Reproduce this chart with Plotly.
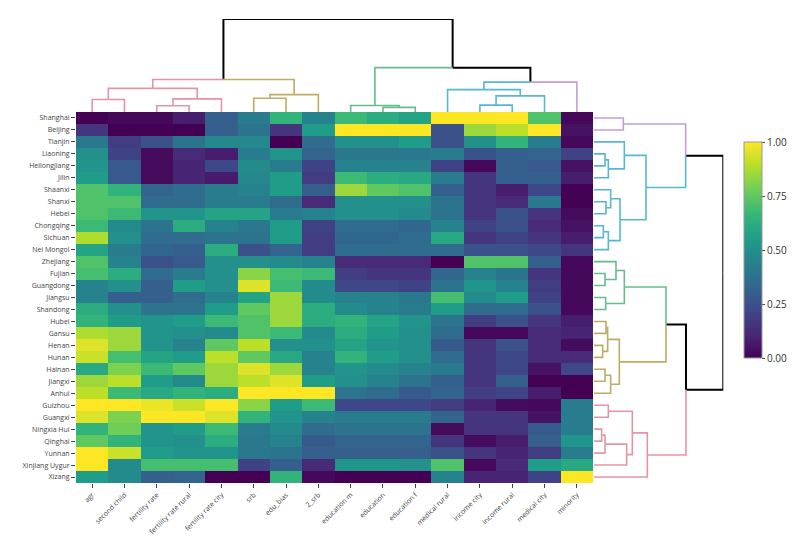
import plotly.graph_objects as go

rows = ["Shanghai", "Beijing", "Tianjin", "Liaoning", "Heilongjiang", "Jilin", "Shaanxi",
        "Shanxi", "Hebei", "Chongqing", "Sichuan", "Nei Mongol", "Zhejiang", "Fujian",
        "Guangdong", "Jiangsu", "Shandong", "Hubei", "Gansu", "Henan", "Hunan", "Hainan",
        "Jiangxi", "Anhui", "Guizhou", "Guangxi", "Ningxia Hui", "Qinghai", "Yunnan",
        "Xinjiang Uygur", "Xizang"]
cols = ["agr", "second child", "fertility rate", "fertility rate rural", "fertility rate city",
        "srb", "edu_bias", "2_srb", "education m", "education", "education f", "medical rural",
        "income city", "income rural", "medical city", "minority"]

values = [
    [0.00, 0.02, 0.02, 0.08, 0.30, 0.42, 0.65, 0.45, 0.68, 0.62, 0.58, 1.00, 1.00, 1.00, 0.72, 0.02],
    [0.15, 0.00, 0.00, 0.00, 0.30, 0.38, 0.15, 0.55, 1.00, 1.00, 1.00, 0.25, 0.85, 0.90, 1.00, 0.05],
    [0.40, 0.18, 0.25, 0.38, 0.47, 0.47, 0.00, 0.35, 0.50, 0.50, 0.55, 0.25, 0.50, 0.65, 0.42, 0.02],
    [0.50, 0.20, 0.03, 0.12, 0.08, 0.42, 0.52, 0.32, 0.40, 0.40, 0.40, 0.42, 0.25, 0.30, 0.32, 0.20],
    [0.52, 0.28, 0.03, 0.10, 0.22, 0.48, 0.42, 0.20, 0.45, 0.45, 0.45, 0.20, 0.02, 0.30, 0.28, 0.05],
    [0.55, 0.28, 0.03, 0.10, 0.07, 0.47, 0.55, 0.18, 0.68, 0.62, 0.60, 0.42, 0.15, 0.30, 0.30, 0.08],
    [0.72, 0.65, 0.32, 0.35, 0.42, 0.45, 0.55, 0.30, 0.85, 0.75, 0.72, 0.30, 0.15, 0.08, 0.22, 0.00],
    [0.72, 0.72, 0.35, 0.35, 0.42, 0.42, 0.35, 0.12, 0.50, 0.50, 0.50, 0.38, 0.15, 0.12, 0.40, 0.00],
    [0.72, 0.68, 0.52, 0.52, 0.58, 0.58, 0.42, 0.45, 0.50, 0.50, 0.48, 0.38, 0.15, 0.25, 0.15, 0.03],
    [0.68, 0.48, 0.38, 0.62, 0.45, 0.40, 0.55, 0.20, 0.35, 0.35, 0.33, 0.45, 0.20, 0.25, 0.12, 0.05],
    [0.88, 0.50, 0.35, 0.35, 0.38, 0.38, 0.55, 0.18, 0.33, 0.33, 0.35, 0.60, 0.15, 0.20, 0.15, 0.08],
    [0.58, 0.42, 0.33, 0.30, 0.62, 0.25, 0.32, 0.18, 0.35, 0.35, 0.35, 0.35, 0.25, 0.25, 0.22, 0.15],
    [0.72, 0.45, 0.25, 0.28, 0.50, 0.50, 0.48, 0.45, 0.12, 0.12, 0.12, 0.00, 0.72, 0.72, 0.30, 0.02],
    [0.70, 0.62, 0.35, 0.42, 0.50, 0.82, 0.70, 0.68, 0.18, 0.15, 0.15, 0.33, 0.45, 0.38, 0.15, 0.02],
    [0.45, 0.50, 0.30, 0.55, 0.50, 0.95, 0.68, 0.48, 0.22, 0.22, 0.20, 0.38, 0.52, 0.45, 0.18, 0.02],
    [0.45, 0.30, 0.30, 0.35, 0.45, 0.58, 0.85, 0.48, 0.45, 0.45, 0.40, 0.70, 0.48, 0.55, 0.20, 0.02],
    [0.62, 0.50, 0.38, 0.38, 0.55, 0.75, 0.85, 0.62, 0.48, 0.45, 0.42, 0.55, 0.35, 0.35, 0.25, 0.02],
    [0.65, 0.55, 0.52, 0.55, 0.68, 0.72, 0.85, 0.62, 0.65, 0.58, 0.52, 0.38, 0.18, 0.25, 0.15, 0.08],
    [0.88, 0.85, 0.52, 0.50, 0.48, 0.72, 0.68, 0.48, 0.62, 0.55, 0.50, 0.35, 0.02, 0.02, 0.12, 0.10],
    [0.95, 0.85, 0.52, 0.45, 0.75, 0.90, 0.50, 0.50, 0.58, 0.52, 0.50, 0.28, 0.15, 0.25, 0.12, 0.03],
    [0.92, 0.70, 0.58, 0.55, 0.90, 0.75, 0.60, 0.45, 0.65, 0.55, 0.50, 0.35, 0.15, 0.22, 0.12, 0.12],
    [0.60, 0.80, 0.68, 0.75, 0.85, 0.95, 0.85, 0.45, 0.52, 0.48, 0.45, 0.42, 0.15, 0.22, 0.05, 0.22],
    [0.85, 0.90, 0.55, 0.48, 0.85, 0.90, 0.95, 0.55, 0.50, 0.45, 0.38, 0.30, 0.15, 0.30, 0.00, 0.00],
    [0.90, 0.68, 0.60, 0.65, 0.62, 1.00, 1.00, 1.00, 0.38, 0.35, 0.28, 0.32, 0.18, 0.20, 0.08, 0.00],
    [1.00, 1.00, 0.97, 0.92, 1.00, 0.82, 0.55, 0.68, 0.22, 0.22, 0.22, 0.18, 0.10, 0.03, 0.02, 0.42],
    [0.95, 0.80, 1.00, 1.00, 0.95, 0.65, 0.52, 0.45, 0.42, 0.42, 0.42, 0.32, 0.15, 0.15, 0.05, 0.42],
    [0.65, 0.78, 0.52, 0.55, 0.68, 0.42, 0.48, 0.35, 0.38, 0.38, 0.38, 0.03, 0.15, 0.15, 0.28, 0.42],
    [0.75, 0.65, 0.52, 0.50, 0.62, 0.40, 0.45, 0.28, 0.32, 0.32, 0.32, 0.15, 0.03, 0.08, 0.30, 0.52],
    [1.00, 0.92, 0.55, 0.52, 0.52, 0.40, 0.38, 0.30, 0.30, 0.30, 0.30, 0.25, 0.15, 0.10, 0.18, 0.42],
    [1.00, 0.48, 0.70, 0.70, 0.70, 0.20, 0.30, 0.12, 0.52, 0.52, 0.50, 0.72, 0.02, 0.12, 0.55, 0.60],
    [0.55, 0.48, 0.30, 0.32, 0.00, 0.00, 0.65, 0.02, 0.00, 0.00, 0.00, 0.45, 0.10, 0.10, 0.20, 1.00],
]

# Dendrogram trees: [left, right, merge height]; leaves are column / row indices
col_tree = [[[[0, 1, 38], [[2, 3, 19], 4, 40], 72], [[5, 6, 42], 7, 53], 99],
            [[8, [9, 10, 14], 20], [[11, [[12, 13, 21], 14, 49], 68], 15, 91], 135], 283]
row_tree = [[[0, 1, 88],
             [[2, [[3, 4, 33], 5, 43], 91],
              [[6, [7, 8, 36], 50], [[9, 10, 28], 11, 43], 78], 156], 275],
            [[[[12, [13, 14, 33], 66], [15, 16, 35], 91],
              [[[17, 18, 36], [19, 20, 26], 41], [[21, 22, 33], 23, 50], 76], 216],
             [[[24, 25, 43], [[[26, 27, 23], 28, 33], 29, 98], 115], 30, 160], 276], 388]

col_cluster = [0, 0, 0, 0, 0, 1, 1, 1, 2, 2, 2, 3, 3, 3, 3, 4]
row_cluster = [4, 4, 3, 3, 3, 3, 3, 3, 3, 3, 3, 3, 2, 2, 2, 2, 2, 1, 1, 1, 1, 1, 1, 1,
               0, 0, 0, 0, 0, 0, 0]
branch_colors = ["#E495A5", "#BDAB66", "#65BC8C", "#55B8D0", "#C29DDE"]


def walk(node, cluster, segs):
    if isinstance(node, int):
        return float(node), 0.0, cluster[node]
    left, right, h = node
    kids = [walk(left, cluster, segs), walk(right, cluster, segs)]
    mid = (kids[0][0] + kids[1][0]) / 2
    for cx, ch, cc in kids:
        segs.append((cc, [cx, cx, mid, None], [ch, h, h, None]))
    c = kids[0][2] if kids[0][2] == kids[1][2] else -1
    return mid, h, c


def dendro_traces(tree, cluster, orient, xa, ya):
    segs = []
    walk(tree, cluster, segs)
    traces = []
    for ci in sorted(set(s[0] for s in segs)):
        pos, hh = [], []
        for c, p, h in segs:
            if c == ci:
                pos += p
                hh += h
        color = "#000000" if ci < 0 else branch_colors[ci]
        width = 2 if ci < 0 else 1.6
        x, y = (pos, hh) if orient == "top" else (hh, pos)
        traces.append(go.Scatter(x=x, y=y, mode="lines", xaxis=xa, yaxis=ya,
                                 line=dict(color=color, width=width),
                                 hoverinfo="skip", showlegend=False))
    return traces


W, H = 800, 539
hm_x0, hm_x1 = 76, 593
hm_y0, hm_y1 = 112, 483

fig = go.Figure()
fig.add_trace(go.Heatmap(
    z=values, x=cols, y=rows, colorscale="Viridis", zmin=0, zmax=1,
    colorbar=dict(x=734 / W, xanchor="left", xpad=10, y=1 - 250 / H, yanchor="middle",
                  len=216 / H, lenmode="fraction", ypad=0, thickness=18,
                  outlinewidth=1, outlinecolor="#999",
                  tickvals=[0, 0.25, 0.5, 0.75, 1], tickformat=".2f",
                  ticks="outside", ticklen=3, tickfont=dict(size=10, color="#333"))))

for t in dendro_traces(col_tree, col_cluster, "top", "x2", "y2"):
    fig.add_trace(t)
for t in dendro_traces(row_tree, row_cluster, "right", "x3", "y3"):
    fig.add_trace(t)

fig.update_layout(
    width=W, height=H, margin=dict(l=0, r=0, t=0, b=0),
    paper_bgcolor="white", plot_bgcolor="white", showlegend=False,
    font=dict(family="Open Sans", color="#444"),
    xaxis=dict(domain=[hm_x0 / W, hm_x1 / W], range=[-0.5, 15.5], anchor="y",
               tickangle=-45, ticks="outside", ticklen=4, tickfont=dict(size=7),
               showgrid=False, zeroline=False, automargin=False),
    yaxis=dict(domain=[1 - hm_y1 / H, 1 - hm_y0 / H], range=[30.5, -0.5], anchor="x",
               ticks="outside", ticklen=4, tickfont=dict(size=7),
               showgrid=False, zeroline=False, automargin=False),
    xaxis2=dict(domain=[hm_x0 / W, hm_x1 / W], range=[-0.5, 15.5], anchor="y2",
                visible=False),
    yaxis2=dict(domain=[1 - hm_y0 / H, 1 - 19 / H], range=[0, 283], anchor="x2",
                visible=False),
    xaxis3=dict(domain=[594 / W, 723.3 / W], range=[0, 388], anchor="y3",
                visible=False),
    yaxis3=dict(domain=[1 - hm_y1 / H, 1 - hm_y0 / H], range=[30.5, -0.5], anchor="x3",
                visible=False),
)

fig.write_html("out.html", config={"displayModeBar": False},
               post_script="document.body.style.margin='0';")
